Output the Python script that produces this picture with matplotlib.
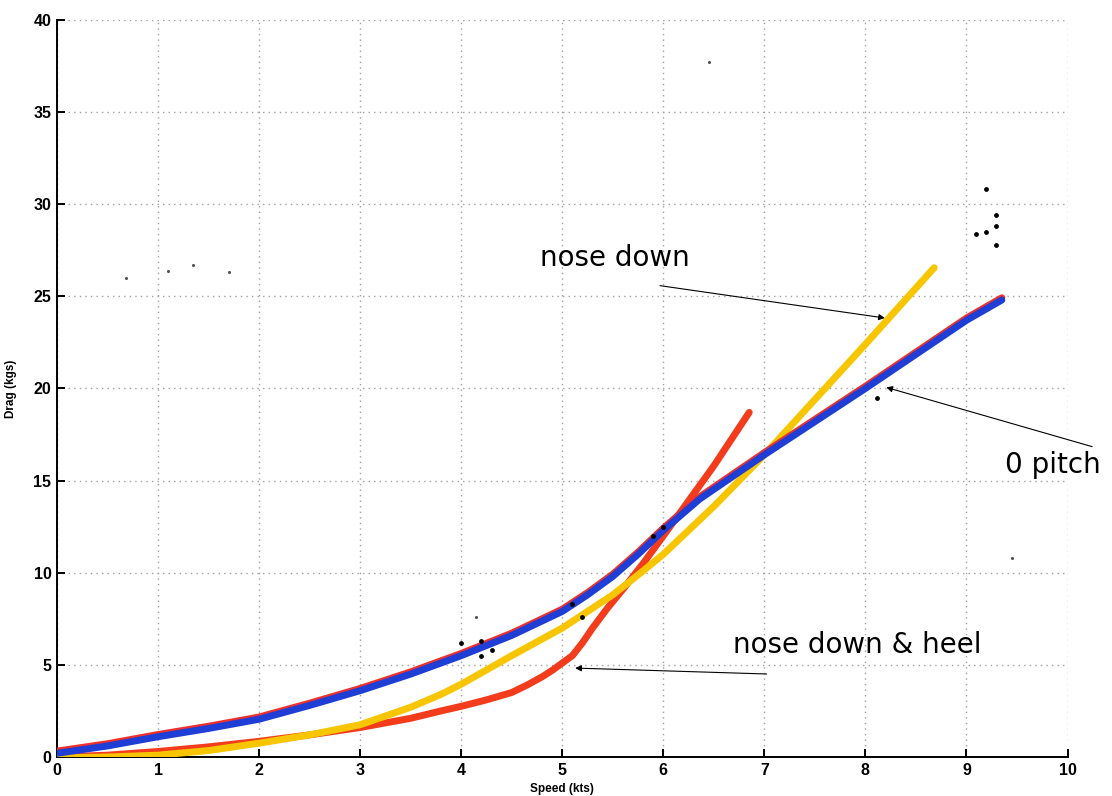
import numpy as np
import matplotlib
matplotlib.use('Agg')
import matplotlib.pyplot as plt

# drag curves, speed in knots vs drag in kgs
speed_pitch0 = [0.0, 0.5, 1.0, 1.5, 2.0, 2.5, 3.0, 3.5, 4.0, 4.5, 5.0, 5.25, 5.5, 5.75, 6.0, 6.36, 7.0, 8.0, 9.0, 9.35]
drag_pitch0 = [0.2, 0.6, 1.1, 1.55, 2.05, 2.8, 3.6, 4.5, 5.5, 6.6, 7.9, 8.8, 9.8, 11.0, 12.3, 14.0, 16.4, 20.0, 23.7, 24.8]

speed_heel = [0.0, 0.5, 1.0, 1.5, 2.0, 2.5, 3.0, 3.5, 3.8, 4.0, 4.25, 4.5, 4.65, 4.8, 4.9, 5.0, 5.1,
              5.2, 5.3, 5.45, 5.6, 5.8, 6.0, 6.25, 6.5, 6.85]
drag_heel = [0.0, 0.1, 0.3, 0.55, 0.85, 1.2, 1.6, 2.1, 2.5, 2.75, 3.1, 3.5, 3.9, 4.35, 4.7, 5.1, 5.5,
             6.2, 7.0, 8.1, 9.1, 10.5, 12.0, 13.9, 15.8, 18.7]

speed_nose = [0.0, 0.5, 1.0, 1.5, 2.0, 2.5, 3.0, 3.5, 3.8, 4.0, 4.5, 5.0, 5.5, 5.8, 6.0, 6.5, 7.0, 7.5, 8.0, 8.68]
drag_nose = [-0.05, 0.0, 0.1, 0.35, 0.75, 1.2, 1.75, 2.7, 3.4, 3.95, 5.5, 7.0, 8.8, 10.1, 11.0, 13.6, 16.4, 19.4, 22.4, 26.55]

pts_x = [9.19, 9.29, 9.29, 9.19, 9.09, 9.29, 8.11, 4.0, 4.2, 4.2, 4.3, 5.1, 5.2, 5.9, 6.0]
pts_y = [30.8, 29.4, 28.8, 28.5, 28.4, 27.8, 19.5, 6.2, 6.3, 5.5, 5.8, 8.3, 7.6, 12.0, 12.5]

specks_x = [0.68, 1.1, 1.35, 1.7, 6.45, 9.45, 4.15]
specks_y = [26.0, 26.4, 26.7, 26.3, 37.7, 10.8, 7.6]

fig = plt.figure(figsize=(11.12, 7.96), dpi=100)
ax = fig.add_axes([0.0513, 0.049, 0.9087, 0.926])

lw = 5.0
ax.plot(speed_heel, drag_heel, color='#f23c1c', lw=lw, solid_capstyle='round', solid_joinstyle='round', zorder=3)
ax.plot(speed_nose, drag_nose, color='#f7c600', lw=lw, solid_capstyle='round', solid_joinstyle='round', zorder=4)
ax.plot(speed_pitch0, np.array(drag_pitch0) + 0.12, color='#f0302a', lw=lw, solid_capstyle='round',
        solid_joinstyle='round', zorder=5)
ax.plot(speed_pitch0, drag_pitch0, color='#1e3ed6', lw=lw, solid_capstyle='round', solid_joinstyle='round', zorder=6)
ax.scatter(pts_x, pts_y, s=6, color='black', zorder=7)
ax.scatter(specks_x, specks_y, s=1.5, color='#555555', zorder=7)

ax.set_xlim(0, 10)
ax.set_ylim(0, 40)
ax.set_xticks(range(0, 11))
ax.set_yticks(range(0, 41, 5))
ax.grid(True, linestyle=(0, (1, 3)), color='#a0a0a0', lw=1.0)
ax.spines['top'].set_visible(False)
ax.spines['right'].set_visible(False)
ax.spines['left'].set_linewidth(1.4)
ax.spines['bottom'].set_linewidth(1.4)
ax.tick_params(direction='in', length=6, width=1.4, pad=4)
for lab in ax.get_xticklabels() + ax.get_yticklabels():
    lab.set_fontweight('bold')
    lab.set_fontsize(11.5)
    lab.set_family('Liberation Sans')

ax.set_xlabel('Speed (kts)', fontsize=8.5, fontweight='bold', family='Liberation Sans', labelpad=4)
ax.set_ylabel('Drag (kgs)', fontsize=8.5, fontweight='bold', family='Liberation Sans', labelpad=12)

# text labels and their pointer arrows
arrow = dict(arrowstyle='-|>', color='black', lw=0.8, mutation_scale=9)
ax.text(5.52, 27.1, 'nose down', fontsize=20, ha='center', va='center')
ax.annotate('', xy=(8.22, 23.8), xytext=(5.94, 25.6), arrowprops=arrow)
ax.text(9.38, 15.85, '0 pitch', fontsize=20, ha='left', va='center', clip_on=False)
ax.annotate('', xy=(8.18, 20.1), xytext=(10.27, 16.8), arrowprops=arrow, annotation_clip=False)
ax.text(6.69, 6.1, 'nose down & heel', fontsize=20, ha='left', va='center')
ax.annotate('', xy=(5.10, 4.83), xytext=(7.05, 4.5), arrowprops=arrow)

fig.savefig('out.png', dpi=100)
